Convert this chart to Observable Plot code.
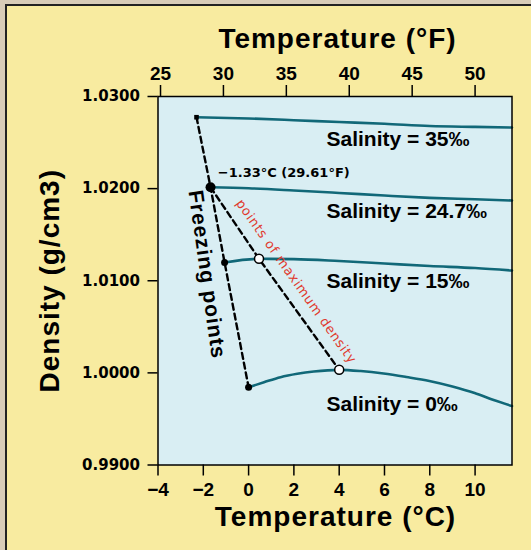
<!DOCTYPE html>
<html><head><meta charset="utf-8">
<script src="https://cdn.jsdelivr.net/npm/d3@7"></script>
<script src="https://cdn.jsdelivr.net/npm/@observablehq/plot@0.6"></script>
<style>
html,body{margin:0;padding:0;}
body{width:531px;height:550px;background:#d8ccb8;position:relative;overflow:hidden;}
#panel{position:absolute;left:5px;top:4px;right:0;bottom:0;border-left:2px solid #222;border-top:2px solid #222;background:#f8eba0;}
#chart{position:absolute;left:0;top:0;}
</style></head><body><div id="panel"></div><div id="chart"></div>
<script>
// Tick labels
const fahrenheitTicks = [25, 30, 35, 40, 45, 50];
const celsiusTicks = [-4, -2, 0, 2, 4, 6, 8, 10];
const densityTicks = [0.99, 1.00, 1.01, 1.02, 1.03];

// Series (temperature °C, density g/cm3)
const temp35 = [-2.30, 0, 2, 4, 6, 8, 10, 11.63];
const dens35 = [1.02775, 1.02762, 1.02743, 1.02723, 1.02704, 1.0268, 1.0267, 1.02663];
const temp247 = [-1.68, 0, 2, 4, 6, 8, 10, 11.63];
const dens247 = [1.02015, 1.02004, 1.0198, 1.01953, 1.01925, 1.019, 1.01884, 1.01871];
const temp15 = [-1.06, 0.46, 2, 4, 6, 8, 10, 11.63];
const dens15 = [1.01198, 1.01238, 1.01235, 1.01214, 1.01187, 1.0116, 1.01138, 1.01111];
const temp0 = [0, 0.68, 1.41, 2.15, 2.88, 4.0, 4.95, 5.96, 6.97, 7.98, 9.0, 9.98, 10.82, 11.63];
const dens0 = [0.99844, 0.99898, 0.99953, 0.9999, 1.00015, 1.00033, 1.0002, 0.99993, 0.99955, 0.99912, 0.99852, 0.99781, 0.99705, 0.9964];

// Freezing points and points of maximum density
const freezeTemp = [-2.30, -1.68, -1.06, 0];
const freezeDens = [1.02775, 1.02015, 1.01198, 0.99844];
const maxTemp = [-1.68, 0.46, 4.0];
const maxDens = [1.02015, 1.01238, 1.00033];

// Labels
const salinityLabels = ["Salinity = 35‰", "Salinity = 24.7‰", "Salinity = 15‰", "Salinity = 0‰"];
const salinityLabelTemp = [3.44, 3.44, 3.44, 3.44];
const salinityLabelDens = [1.02531, 1.01757, 1.00994, 0.99655];
const noteText = ["−1.33°C (29.61°F)"];
const noteTemp = [-1.36];
const noteDens = [1.02175];
const freezeLabel = ["Freezing points"];
const freezeLabelTemp = [-1.84];
const freezeLabelDens = [1.01068];
const maxLabel = ["points of maximum density"];
const maxLabelTemp = [2.10];
const maxLabelDens = [1.00992];

const rows = [];
[[temp35, dens35, "35"], [temp247, dens247, "24.7"], [temp15, dens15, "15"], [temp0, dens0, "0"]]
  .forEach(([t, d, s]) => t.forEach((v, i) => rows.push({s, t: v, d: d[i]})));
const fr = freezeTemp.map((t, i) => ({t, d: freezeDens[i]}));
const mx = maxTemp.map((t, i) => ({t, d: maxDens[i]}));
const salLab = salinityLabels.map((l, i) => ({l, t: salinityLabelTemp[i], d: salinityLabelDens[i]}));
const note = noteText.map((l, i) => ({l, t: noteTemp[i], d: noteDens[i]}));
const fLab = freezeLabel.map((l, i) => ({l, t: freezeLabelTemp[i], d: freezeLabelDens[i]}));
const mLab = maxLabel.map((l, i) => ({l, t: maxLabelTemp[i], d: maxLabelDens[i]}));

const teal = "#116878";
const sans = "'Liberation Sans', Arial, sans-serif";
const wide = "'DejaVu Sans', Verdana, sans-serif";

const plot = Plot.plot({
  width: 531, height: 550,
  marginLeft: 157.5, marginRight: 19.5, marginTop: 96, marginBottom: 85.5,
  style: {background: "transparent", fontFamily: sans, overflow: "visible", color: "#000"},
  x: {domain: [-4, 11.63], axis: null},
  y: {domain: [0.99, 1.03], axis: null},
  marks: [
    Plot.frame({fill: "#d9eef3"}),
    Plot.line(rows, {x: "t", y: "d", z: "s", stroke: teal, strokeWidth: 2.6, curve: "monotone-x"}),
    Plot.line(fr, {x: "t", y: "d", stroke: "#000", strokeWidth: 2.4, strokeDasharray: "6,4"}),
    Plot.line(mx, {x: "t", y: "d", stroke: "#000", strokeWidth: 2.4, strokeDasharray: "6,4"}),
    Plot.dot(fr.slice(0, 1), {x: "t", y: "d", r: 2.6, symbol: "square", fill: "#000"}),
    Plot.dot(fr.slice(1, 2), {x: "t", y: "d", r: 5, fill: "#000"}),
    Plot.dot(fr.slice(2), {x: "t", y: "d", r: 3.5, fill: "#000"}),
    Plot.dot(mx.slice(1), {x: "t", y: "d", r: 4.5, fill: "#fff", stroke: "#000", strokeWidth: 1.5}),
    Plot.frame({stroke: "#000", strokeWidth: 1.5}),
    Plot.text(salLab, {x: "t", y: "d", text: "l", textAnchor: "start", fontSize: 21, fontWeight: "bold", fill: "#000"}),
    Plot.text(note, {x: "t", y: "d", text: "l", textAnchor: "start", fontSize: 13, fontWeight: "bold", fontFamily: wide, fill: "#000"}),
    Plot.text(fLab, {x: "t", y: "d", text: "l", rotate: 82, fontSize: 21, fontWeight: "bold", fill: "#000"}),
    Plot.text(mLab, {x: "t", y: "d", text: "l", rotate: 54.6, fontSize: 13, fontFamily: wide, fill: "#e03a2e"}),
    Plot.axisX(celsiusTicks, {anchor: "bottom", label: null, tickSize: 11, tickPadding: 6.5, fontSize: 19, fontWeight: "bold", strokeWidth: 1.5}),
    Plot.axisX(fahrenheitTicks.map(f => (f - 32) * 5 / 9), {anchor: "top", label: null, tickSize: 12, tickPadding: 4.4, fontSize: 19, fontWeight: "bold", strokeWidth: 1.5,
      tickFormat: c => String(Math.round(c * 9 / 5 + 32))}),
    Plot.axisY(densityTicks, {anchor: "left", label: null, tickSize: 10, tickPadding: 8, fontSize: 15, fontWeight: "bold", fontFamily: wide, strokeWidth: 1.5,
      tickFormat: d => d.toFixed(4)}),
    Plot.text(["Temperature (°F)"], {frameAnchor: "top", text: d => d, textAnchor: "middle", lineAnchor: "middle", dx: 2.5, dy: -57.3, fontSize: 28, fontWeight: "bold", fill: "#000"}),
    Plot.text(["Temperature (°C)"], {frameAnchor: "bottom", text: d => d, textAnchor: "middle", lineAnchor: "middle", dx: 0.5, dy: 51.9, fontSize: 28, fontWeight: "bold", fill: "#000"}),
    Plot.text(["Density (g/cm3)"], {frameAnchor: "left", text: d => d, textAnchor: "middle", lineAnchor: "middle", dx: -107.5, rotate: -90, fontSize: 28, fontWeight: "bold", fill: "#000"})
  ]
});

d3.select(plot).selectAll("text").each(function() {
  const t = this.textContent;
  if (t.startsWith("Temperature") || t.startsWith("Density")) this.style.letterSpacing = "1px";
  else if (t.startsWith("Freezing")) this.style.letterSpacing = "1px";
  else if (t.startsWith("points of")) this.style.letterSpacing = "0.8px";
});
document.getElementById("chart").appendChild(plot);
</script></body></html>
